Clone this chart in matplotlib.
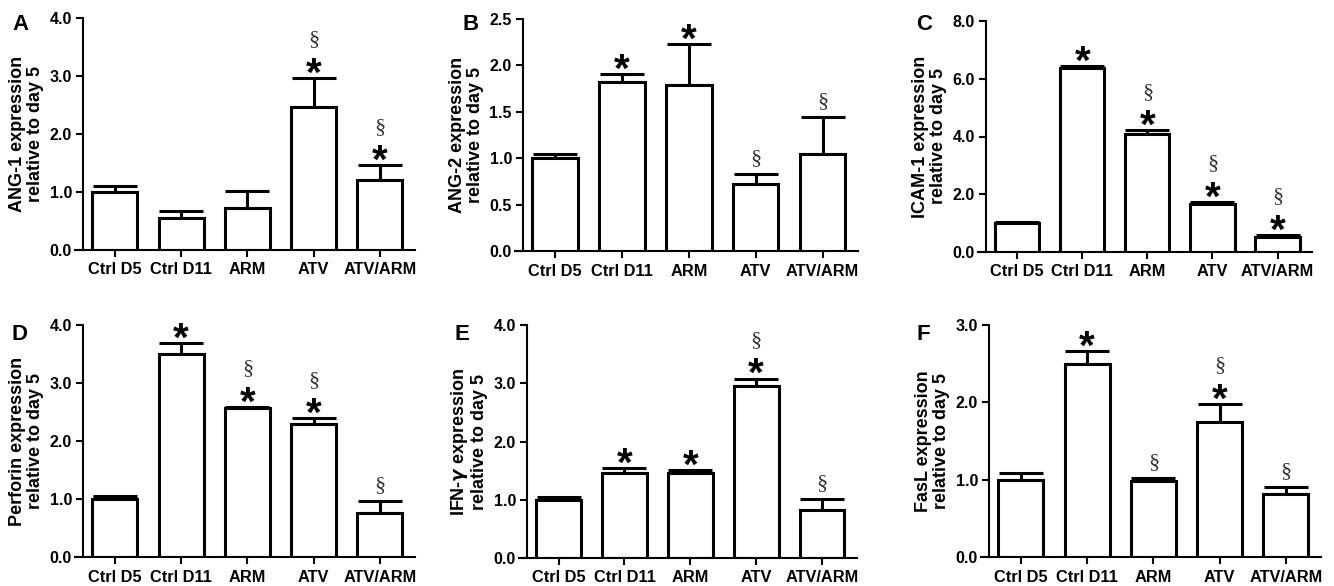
import matplotlib.pyplot as plt
import numpy as np

plt.rcParams['font.family'] = ['Liberation Sans', 'DejaVu Sans']
plt.rcParams['font.weight'] = 'bold'
plt.rcParams['mathtext.default'] = 'it'

groups = ["Ctrl D5", "Ctrl D11", "ARM", "ATV", "ATV/ARM"]

ang1_mean = [1.00, 0.55, 0.72, 2.46, 1.21]
ang1_err = [0.11, 0.12, 0.30, 0.51, 0.25]
ang1_marks = ["", "", "", "*§", "*§"]

ang2_mean = [1.00, 1.82, 1.79, 0.72, 1.05]
ang2_err = [0.05, 0.09, 0.44, 0.11, 0.39]
ang2_marks = ["", "*", "*", "§", "§"]

icam1_mean = [1.00, 6.38, 4.10, 1.67, 0.53]
icam1_err = [0.05, 0.07, 0.11, 0.06, 0.06]
icam1_marks = ["", "*", "*§", "*§", "*§"]

perforin_mean = [1.00, 3.50, 2.57, 2.30, 0.76]
perforin_err = [0.05, 0.19, 0.02, 0.09, 0.21]
perforin_marks = ["", "*", "*§", "*§", "§"]

ifng_mean = [1.00, 1.46, 1.46, 2.95, 0.82]
ifng_err = [0.05, 0.08, 0.05, 0.13, 0.19]
ifng_marks = ["", "*", "*", "*§", "§"]

fasl_mean = [1.00, 2.49, 0.98, 1.75, 0.82]
fasl_err = [0.08, 0.17, 0.04, 0.23, 0.09]
fasl_marks = ["", "*", "§", "*§", "§"]

panels = [
    ("A", "ANG-1 expression", ang1_mean, ang1_err, ang1_marks, 4.0, 1.0, (83, 415, 250, 18), (12, 14)),
    ("B", "ANG-2 expression", ang2_mean, ang2_err, ang2_marks, 2.5, 0.5, (523, 858, 251, 19), (462, 14)),
    ("C", "ICAM-1 expression", icam1_mean, icam1_err, icam1_marks, 8.0, 2.0, (986, 1312, 252, 21), (916, 14)),
    ("D", "Perforin expression", perforin_mean, perforin_err, perforin_marks, 4.0, 1.0, (83, 415, 557, 325), (12, 324)),
    ("E", "IFN-$\\gamma$ expression", ifng_mean, ifng_err, ifng_marks, 4.0, 1.0, (527, 857, 558, 325), (455, 324)),
    ("F", "FasL expression", fasl_mean, fasl_err, fasl_marks, 3.0, 1.0, (989, 1321, 557, 325), (916, 324)),
]

W, H = 1334, 586
fig = plt.figure(figsize=(W / 100, H / 100), dpi=100)

for letter, label, mean, err, marks, ymax, step, (l, r, b, t), (lx, ly) in panels:
    ax = fig.add_axes([l / W, (H - b) / H, (r - l) / W, (b - t) / H])
    x = np.arange(len(groups))
    ax.bar(x, mean, width=0.68, color="white", edgecolor="black", linewidth=2.2, zorder=2)
    ax.errorbar(x, mean, yerr=[np.zeros(len(err)), err], fmt="none", ecolor="black",
                elinewidth=2.2, capsize=16, capthick=2.2, zorder=1)
    ax.set_xlim(-0.48, 4.53)
    ax.set_ylim(0, ymax)
    ticks = np.arange(0, ymax + step / 2, step)
    ax.set_yticks(ticks)
    ax.set_yticklabels([f"{v:.1f}" for v in ticks])
    ax.set_xticks(x)
    ax.set_xticklabels(groups)
    ax.tick_params(axis="both", width=1.5, length=5)
    ax.tick_params(axis="y", labelsize=11.5, pad=3)
    ax.tick_params(axis="x", labelsize=11.8, pad=4)
    for s in ["top", "right"]:
        ax.spines[s].set_visible(False)
    for s in ["left", "bottom"]:
        ax.spines[s].set_linewidth(1.5)
    ax.spines["bottom"].set_bounds(-0.6, 4.53)
    ax.set_ylabel(label + "\nrelative to day 5", fontsize=13, fontweight="bold",
                  labelpad=4, linespacing=1.1)

    for xi, m, e, mk in zip(x, mean, err, marks):
        top = m + e
        if "*" in mk:
            ax.annotate("*", (xi, top), xytext=(0, -5.5), textcoords="offset points",
                        ha="center", va="baseline", fontsize=29, fontweight="bold")
            if "§" in mk:
                ax.annotate("§", (xi, top), xytext=(0, 27.5), textcoords="offset points",
                            ha="center", va="center", fontsize=16, fontweight="normal",
                            family="Liberation Serif", color="#333333")
        elif "§" in mk:
            ax.annotate("§", (xi, top), xytext=(0, 11), textcoords="offset points",
                        ha="center", va="center", fontsize=16, fontweight="normal",
                        family="Liberation Serif", color="#333333")

    fig.text(lx / W, (H - ly) / H, letter, fontsize=16, fontweight="bold",
             ha="left", va="top")

fig.savefig("out.png", dpi=100)
